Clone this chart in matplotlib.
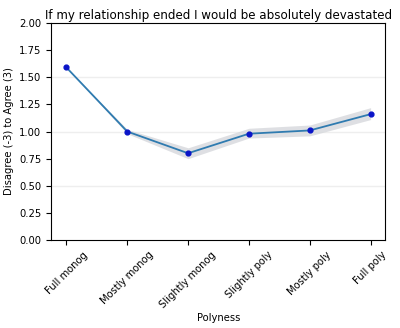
import numpy as np
import matplotlib
matplotlib.use("Agg")
import matplotlib.pyplot as plt

categories = ["Full monog", "Mostly monog", "Slightly monog",
              "Slightly poly", "Mostly poly", "Full poly"]
means = [1.59, 1.00, 0.80, 0.98, 1.01, 1.16]
ci_low = [1.59, 0.98, 0.75, 0.94, 0.96, 1.11]
ci_high = [1.59, 1.02, 0.85, 1.03, 1.06, 1.22]

x = np.arange(len(categories))

fig, ax = plt.subplots(figsize=(4, 3.28), dpi=100)
fig.subplots_adjust(left=0.128, right=0.963, top=0.93, bottom=0.268)

for level in [0.5, 1.0, 1.5]:
    ax.axhline(level, color="#eeeeee", lw=1, zorder=0)

ax.fill_between(x, ci_low, ci_high, color="#d6d8dc", alpha=0.8, lw=0)
ax.plot(x, means, color="#2f7bb0", lw=1.3)
ax.scatter(x, means, color="#0a14c8", s=12, zorder=3)

ax.set_ylim(0, 2.0)
ax.set_yticks(np.arange(0, 2.01, 0.25))
ax.set_xticks(x)
ax.set_xticklabels(categories, rotation=45)
ax.tick_params(labelsize=7.2)
ax.set_xlim(-0.25, 5.24)

ax.set_title("If my relationship ended I would be absolutely devastated", fontsize=8.6, pad=3)
ax.set_xlabel("Polyness", fontsize=7.2, labelpad=2)
ax.set_ylabel("Disagree (-3) to Agree (3)", fontsize=7.2)

fig.savefig("out.png", dpi=100)
